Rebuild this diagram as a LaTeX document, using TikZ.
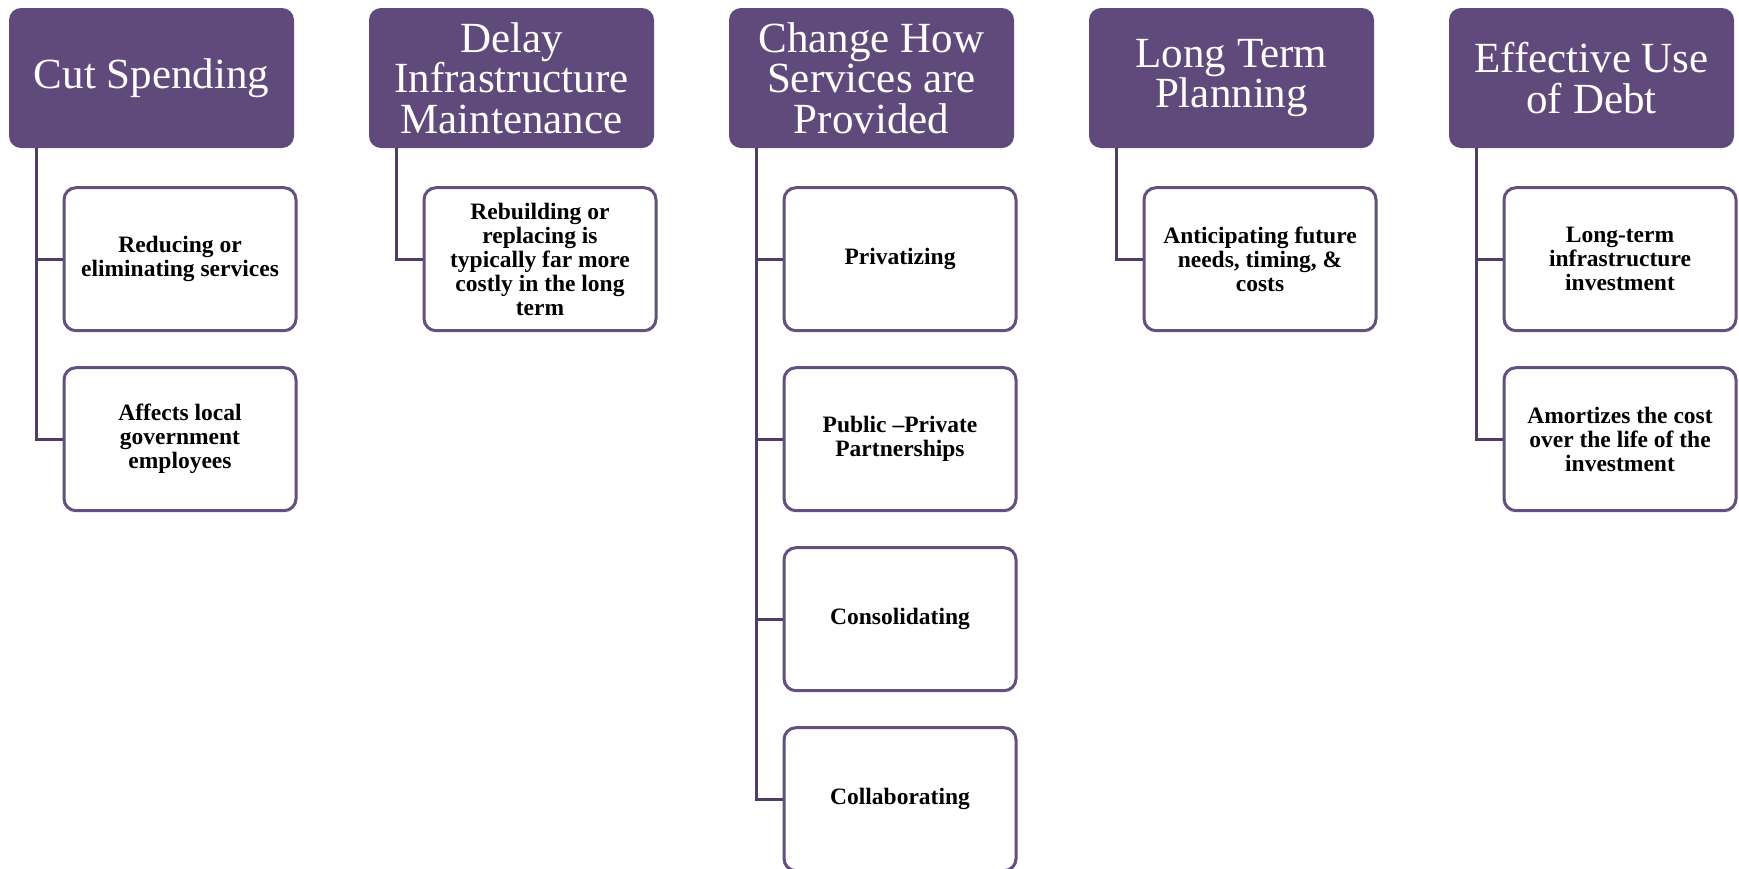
\documentclass[tikz,border=0pt]{standalone}
\usepackage{fontspec}
\setmainfont{Liberation Serif}
\usetikzlibrary{positioning}

\definecolor{hdrpurple}{HTML}{604A7B}
\definecolor{boxpurple}{HTML}{64507F}
\definecolor{linepurple}{HTML}{4F3D66}

\begin{document}
\begin{tikzpicture}[x=1pt, y=-1pt,
  node distance=34pt,
  header/.style={rectangle, rounded corners=12pt, fill=hdrpurple,
    text=white, minimum width=285pt, minimum height=140pt,
    align=center, inner sep=2pt,
    font=\fontsize{43}{40.5}\selectfont},
  item/.style={rectangle, rounded corners=12pt, draw=boxpurple,
    line width=3pt, fill=white, minimum width=232pt,
    minimum height=143pt, align=center, inner sep=4pt,
    font=\fontsize{23.5}{24}\selectfont\bfseries},
  conn/.style={draw=linepurple, line width=3pt}]

  \useasboundingbox (0,0) rectangle (1739,868);

  % top row of headers
  \node [header] (cut) at (151.5,78) {Cut Spending};
  \node [header] (delay) at (511.5,78) {Delay\\Infrastructure\\Maintenance};
  \node [header] (change) at (871.5,78) {Change How\\Services are\\Provided};
  \node [header] (plan) at (1231.5,78) {Long Term\\Planning};
  \node [header] (debt) at (1591.5,78) {Effective Use\\of Debt};

  % cut spending
  \node [item, below=38pt of cut.south, xshift=28.5pt] (cutA)
    {Reducing or\\eliminating services};
  \node [item, below=of cutA] (cutB)
    {Affects local\\government\\employees};

  % delay maintenance
  \node [item, below=38pt of delay.south, xshift=28.5pt] (delayA)
    {Rebuilding or\\replacing is\\typically far more\\costly in the long\\term};

  % change how services are provided
  \node [item, below=38pt of change.south, xshift=28.5pt] (changeA)
    {Privatizing};
  \node [item, below=of changeA] (changeB) {Public --Private\\Partnerships};
  \node [item, below=of changeB] (changeC) {Consolidating};
  \node [item, below=of changeC] (changeD) {Collaborating};

  % long term planning
  \node [item, below=38pt of plan.south, xshift=28.5pt] (planA)
    {Anticipating future\\needs, timing, \&\\costs};

  % effective use of debt
  \node [item, below=38pt of debt.south, xshift=28.5pt] (debtA)
    {Long-term\\infrastructure\\investment};
  \node [item, below=of debtA] (debtB)
    {Amortizes the cost\\over the life of the\\investment};

  % connectors
  \draw [conn] ([xshift=28pt]cut.south west) |- (cutA.west);
  \draw [conn] ([xshift=28pt]cut.south west) |- (cutB.west);
  \draw [conn] ([xshift=28pt]delay.south west) |- (delayA.west);
  \draw [conn] ([xshift=28pt]change.south west) |- (changeA.west);
  \draw [conn] ([xshift=28pt]change.south west) |- (changeB.west);
  \draw [conn] ([xshift=28pt]change.south west) |- (changeC.west);
  \draw [conn] ([xshift=28pt]change.south west) |- (changeD.west);
  \draw [conn] ([xshift=28pt]plan.south west) |- (planA.west);
  \draw [conn] ([xshift=28pt]debt.south west) |- (debtA.west);
  \draw [conn] ([xshift=28pt]debt.south west) |- (debtB.west);
\end{tikzpicture}
\end{document}
